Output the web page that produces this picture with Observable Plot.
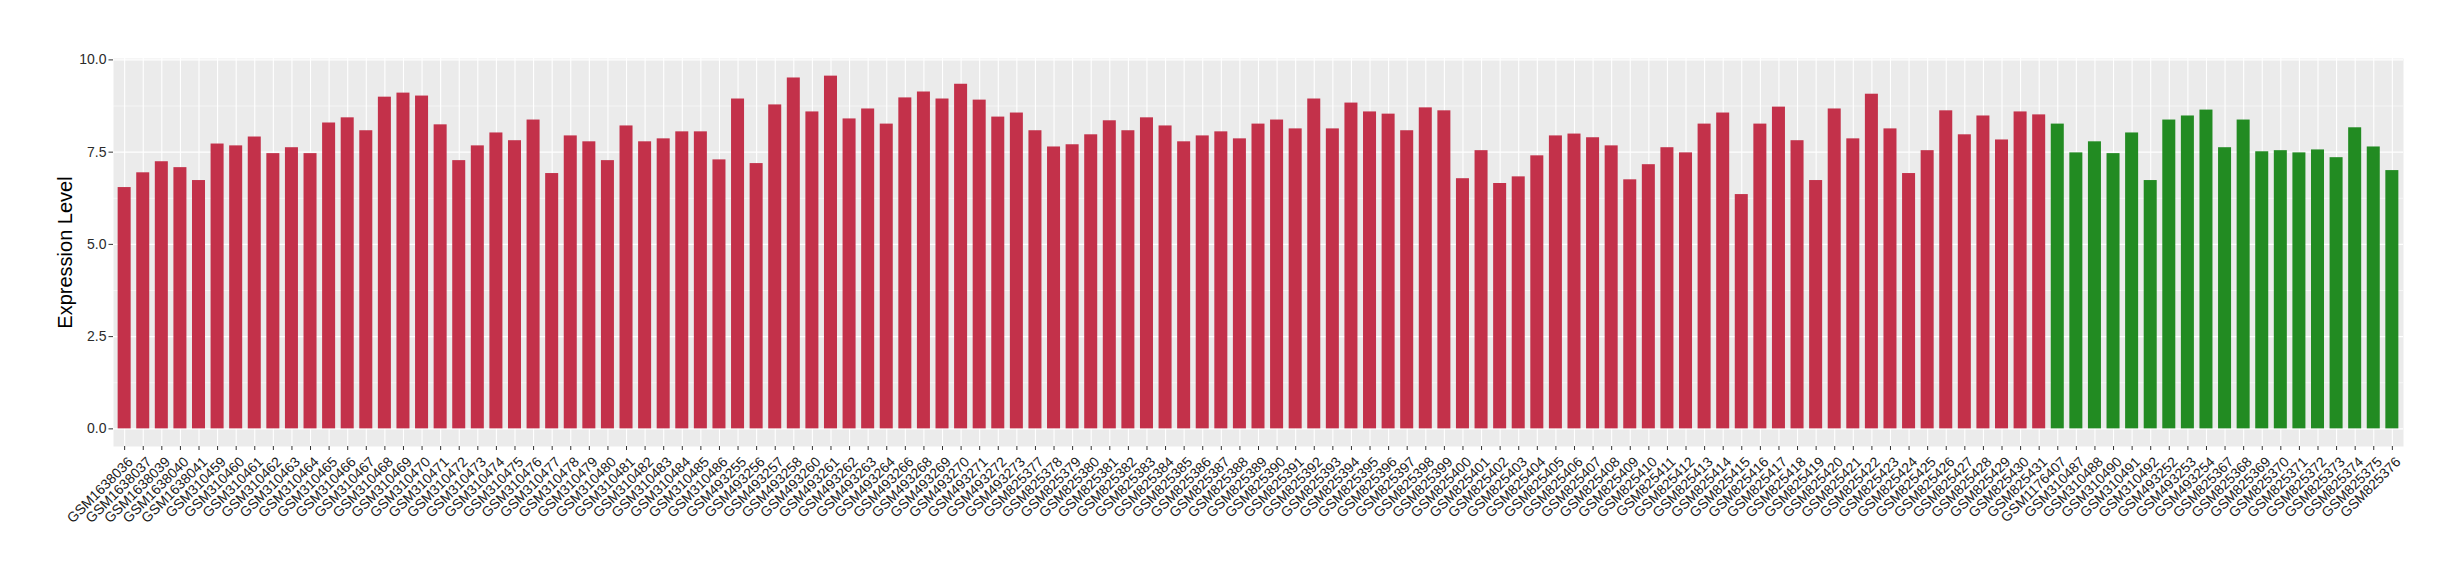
<!DOCTYPE html>
<html>
<head>
<meta charset="utf-8">
<script src="https://cdn.jsdelivr.net/npm/d3@7"></script>
<script src="https://cdn.jsdelivr.net/npm/@observablehq/plot@0.6"></script>
<style>
  html, body { margin: 0; padding: 0; background: #ffffff; }
  #chart { width: 2460px; height: 580px; }
  svg { font-family: "Liberation Sans", Arial, Helvetica, sans-serif; }
</style>
</head>
<body>
<div id="chart"></div>
<script>
// Sample IDs (x categories), in plotted order
const groupASamples = [
  "GSM1638036","GSM1638037","GSM1638039","GSM1638040","GSM1638041",
  "GSM310459","GSM310460","GSM310461","GSM310462","GSM310463","GSM310464","GSM310465","GSM310466","GSM310467","GSM310468",
  "GSM310469","GSM310470","GSM310471","GSM310472","GSM310473","GSM310474","GSM310475","GSM310476","GSM310477","GSM310478",
  "GSM310479","GSM310480","GSM310481","GSM310482","GSM310483","GSM310484","GSM310485","GSM310486",
  "GSM493255","GSM493256","GSM493257","GSM493258","GSM493260","GSM493261","GSM493262","GSM493263","GSM493264","GSM493266",
  "GSM493268","GSM493269","GSM493270","GSM493271","GSM493272","GSM493273",
  "GSM825377","GSM825378","GSM825379","GSM825380","GSM825381","GSM825382","GSM825383","GSM825384","GSM825385","GSM825386",
  "GSM825387","GSM825388","GSM825389","GSM825390","GSM825391","GSM825392","GSM825393","GSM825394","GSM825395","GSM825396",
  "GSM825397","GSM825398","GSM825399","GSM825400","GSM825401","GSM825402","GSM825403","GSM825404","GSM825405","GSM825406",
  "GSM825407","GSM825408","GSM825409","GSM825410","GSM825411","GSM825412","GSM825413","GSM825414","GSM825415","GSM825416",
  "GSM825417","GSM825418","GSM825419","GSM825420","GSM825421","GSM825422","GSM825423","GSM825424","GSM825425","GSM825426",
  "GSM825427","GSM825428","GSM825429","GSM825430","GSM825431"
];
const groupAValues = [
  6.54,6.94,7.24,7.08,6.73,
  7.72,7.67,7.91,7.46,7.62,7.46,8.29,8.43,8.08,8.99,
  9.10,9.02,8.24,7.27,7.67,8.02,7.81,8.37,6.92,7.94,
  7.78,7.27,8.21,7.78,7.86,8.05,8.05,7.29,
  8.94,7.19,8.78,9.51,8.59,9.56,8.40,8.67,8.26,8.97,
  9.13,8.94,9.34,8.91,8.45,8.56,
  8.08,7.64,7.70,7.97,8.35,8.08,8.43,8.21,7.78,7.94,
  8.05,7.86,8.26,8.37,8.13,8.94,8.13,8.83,8.59,8.53,
  8.08,8.70,8.62,6.78,7.54,6.65,6.83,7.40,7.94,7.99,
  7.89,7.67,6.75,7.16,7.62,7.48,8.26,8.56,6.35,8.26,
  8.72,7.81,6.73,8.67,7.86,9.07,8.13,6.92,7.54,8.62,
  7.97,8.48,7.83,8.59,8.51
];
const groupBSamples = [
  "GSM1176407","GSM310487","GSM310488","GSM310490","GSM310491","GSM310492",
  "GSM493252","GSM493253","GSM493254",
  "GSM825367","GSM825368","GSM825369","GSM825370","GSM825371","GSM825372","GSM825373","GSM825374","GSM825375","GSM825376"
];
const groupBValues = [
  8.26,7.48,7.78,7.46,8.02,6.73,
  8.37,8.48,8.64,
  7.62,8.37,7.51,7.54,7.48,7.56,7.35,8.16,7.64,7.00
];
const groups = ["groupA", "groupB"];
const groupColors = ["#C3314A", "#228B22"];
const yTicks = [0, 2.5, 5, 7.5, 10];
const yMinorTicks = [1.25, 3.75, 6.25, 8.75];
const yLabel = "Expression Level";

const data = [
  ...groupASamples.map((s, i) => ({sample: s, value: groupAValues[i], group: "groupA"})),
  ...groupBSamples.map((s, i) => ({sample: s, value: groupBValues[i], group: "groupB"}))
];
const samples = data.map(d => d.sample);
const vmax = d3.max(data, d => d.value);

const chart = Plot.plot({
  width: 2460,
  height: 580,
  marginLeft: 113,
  marginRight: 57,
  marginTop: 58,
  marginBottom: 134,
  style: {fontFamily: "'Liberation Sans', Arial, Helvetica, sans-serif", fontSize: "14px", background: "#ffffff"},
  x: {domain: samples, paddingInner: 0.3, paddingOuter: 0.25},
  y: {domain: [-0.05 * vmax, 1.05 * vmax]},
  color: {type: "ordinal", domain: groups, range: groupColors},
  marks: [
    Plot.frame({fill: "#EBEBEB", stroke: null}),
    Plot.gridY(yMinorTicks, {stroke: "#ffffff", strokeOpacity: 1, strokeWidth: 0.55}),
    Plot.gridY(yTicks, {stroke: "#ffffff", strokeOpacity: 1, strokeWidth: 1.1}),
    Plot.gridX({stroke: "#ffffff", strokeOpacity: 1, strokeWidth: 1.1}),
    Plot.barY(data, {x: "sample", y: "value", fill: "group"}),
    Plot.axisY(yTicks, {
      tickFormat: d3.format(".1f"), tickSize: 4.5, tickPadding: 2.5,
      stroke: "#333333", color: "#2B2B2B", fontSize: 14,
      label: null
    }),
    // tick marks only
    Plot.axisX({
      tickSize: 4, tickFormat: () => "", stroke: "#333333", label: null
    }),
    // rotated tick labels, hanging below-right of each tick
    Plot.axisX({
      tickSize: 0, tickPadding: 13, dx: 6, tickRotate: -45,
      color: "#1A1A1A", fontSize: 14, label: null
    }),
    Plot.text([yLabel], {
      frameAnchor: "left", dx: -48, rotate: -90,
      fontSize: 20, fill: "#000000", textAnchor: "middle"
    })
  ]
});
document.getElementById("chart").appendChild(chart);
</script>
</body>
</html>
